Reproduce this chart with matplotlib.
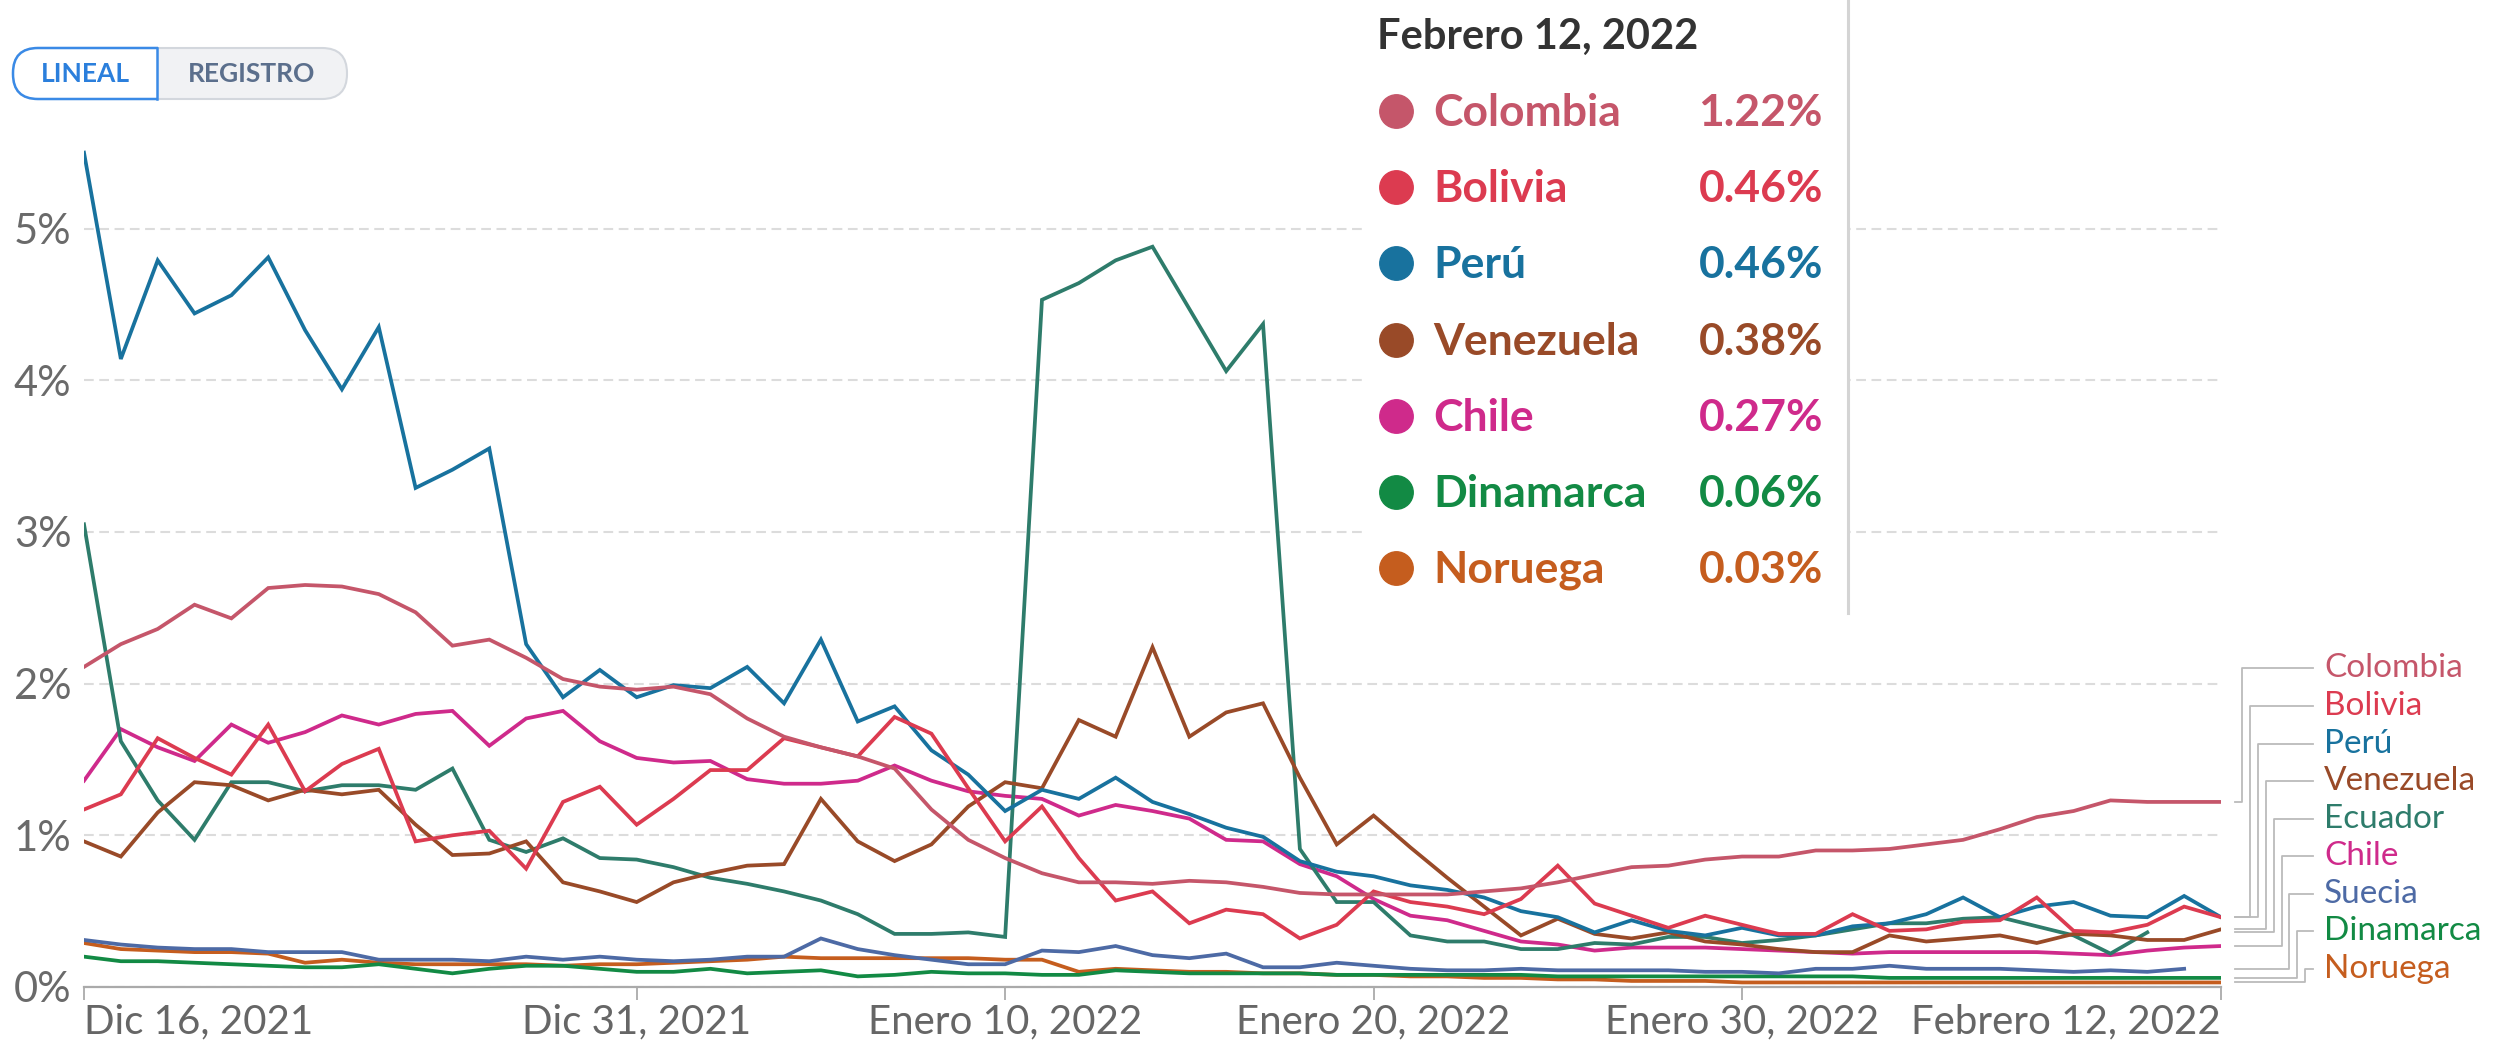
import matplotlib
matplotlib.use("Agg")
import matplotlib.pyplot as plt
from matplotlib.patches import FancyBboxPatch, Rectangle
from matplotlib.transforms import blended_transform_factory
import pandas as pd

plt.rcParams['font.family'] = ['Lato', 'DejaVu Sans']
plt.rcParams['lines.scale_dashes'] = False

# fechas diarias
dates = pd.date_range('2021-12-16', '2022-02-12', freq='D')

tick_dates = pd.to_datetime(['2021-12-16', '2021-12-31', '2022-01-10',
                             '2022-01-20', '2022-01-30', '2022-02-12'])
tick_labels = ['Dic 16, 2021', 'Dic 31, 2021', 'Enero 10, 2022',
               'Enero 20, 2022', 'Enero 30, 2022', 'Febrero 12, 2022']

colombia = [2.11, 2.26, 2.36, 2.52, 2.43, 2.63, 2.65, 2.64, 2.59, 2.47,
            2.25, 2.29, 2.17, 2.03, 1.98, 1.96, 1.98, 1.93, 1.77, 1.65,
            1.58, 1.52, 1.44, 1.17, 0.97, 0.85, 0.75, 0.69, 0.69, 0.68,
            0.70, 0.69, 0.66, 0.62, 0.61, 0.61, 0.61, 0.61, 0.63, 0.65,
            0.69, 0.74, 0.79, 0.80, 0.84, 0.86, 0.86, 0.90, 0.90, 0.91,
            0.94, 0.97, 1.04, 1.12, 1.16, 1.23, 1.22, 1.22, 1.22]
bolivia = [1.17, 1.27, 1.64, 1.51, 1.40, 1.73, 1.29, 1.47, 1.57, 0.96,
           1.00, 1.03, 0.78, 1.22, 1.32, 1.07, 1.24, 1.43, 1.43, 1.64,
           1.58, 1.52, 1.78, 1.67, 1.31, 0.96, 1.19, 0.85, 0.57, 0.63,
           0.42, 0.51, 0.48, 0.32, 0.41, 0.63, 0.56, 0.53, 0.48, 0.58,
           0.80, 0.55, 0.47, 0.39, 0.47, 0.41, 0.35, 0.35, 0.48, 0.37,
           0.38, 0.43, 0.44, 0.59, 0.37, 0.36, 0.41, 0.53, 0.46]
peru = [5.50, 4.14, 4.79, 4.44, 4.56, 4.81, 4.33, 3.94, 4.35, 3.29,
        3.41, 3.55, 2.26, 1.91, 2.09, 1.91, 1.99, 1.97, 2.11, 1.87,
        2.29, 1.75, 1.85, 1.56, 1.40, 1.16, 1.30, 1.24, 1.38, 1.22,
        1.14, 1.05, 0.99, 0.83, 0.76, 0.73, 0.67, 0.64, 0.59, 0.50,
        0.46, 0.36, 0.44, 0.37, 0.34, 0.39, 0.34, 0.34, 0.40, 0.42,
        0.48, 0.59, 0.46, 0.53, 0.56, 0.47, 0.46, 0.60, 0.46]
venezuela = [0.96, 0.86, 1.15, 1.35, 1.33, 1.23, 1.30, 1.27, 1.30, 1.07,
             0.87, 0.88, 0.96, 0.69, 0.63, 0.56, 0.69, 0.75, 0.80, 0.81,
             1.24, 0.96, 0.83, 0.94, 1.19, 1.35, 1.31, 1.76, 1.65, 2.24,
             1.65, 1.81, 1.87, 1.38, 0.94, 1.13, 0.92, 0.72, 0.53, 0.34,
             0.45, 0.35, 0.32, 0.36, 0.30, 0.28, 0.25, 0.23, 0.23, 0.34,
             0.30, 0.32, 0.34, 0.29, 0.35, 0.34, 0.31, 0.31, 0.38]
ecuador = [3.05, 1.62, 1.23, 0.97, 1.35, 1.35, 1.29, 1.33, 1.33, 1.30,
           1.44, 0.97, 0.89, 0.98, 0.85, 0.84, 0.79, 0.72, 0.68, 0.63,
           0.57, 0.48, 0.35, 0.35, 0.36, 0.33, 4.53, 4.64, 4.79, 4.88,
           4.47, 4.06, 4.37, 0.91, 0.56, 0.56, 0.34, 0.30, 0.30, 0.25,
           0.25, 0.29, 0.28, 0.33, 0.33, 0.29, 0.31, 0.34, 0.38, 0.42,
           0.42, 0.45, 0.46, 0.40, 0.34, 0.22, 0.36]
chile = [1.36, 1.70, 1.58, 1.49, 1.73, 1.61, 1.68, 1.79, 1.73, 1.80,
         1.82, 1.59, 1.77, 1.82, 1.62, 1.51, 1.48, 1.49, 1.37, 1.34,
         1.34, 1.36, 1.46, 1.36, 1.29, 1.26, 1.24, 1.13, 1.20, 1.16,
         1.11, 0.97, 0.96, 0.81, 0.73, 0.58, 0.47, 0.44, 0.37, 0.30,
         0.28, 0.24, 0.26, 0.26, 0.26, 0.25, 0.24, 0.23, 0.22, 0.23,
         0.23, 0.23, 0.23, 0.23, 0.22, 0.21, 0.24, 0.26, 0.27]
suecia = [0.31, 0.28, 0.26, 0.25, 0.25, 0.23, 0.23, 0.23, 0.18, 0.18,
          0.18, 0.17, 0.20, 0.18, 0.20, 0.18, 0.17, 0.18, 0.20, 0.20,
          0.32, 0.25, 0.21, 0.18, 0.15, 0.15, 0.24, 0.23, 0.27, 0.21,
          0.19, 0.22, 0.13, 0.13, 0.16, 0.14, 0.12, 0.11, 0.11, 0.12,
          0.11, 0.11, 0.11, 0.11, 0.10, 0.10, 0.09, 0.12, 0.12, 0.14,
          0.12, 0.12, 0.12, 0.11, 0.10, 0.11, 0.10, 0.12]
dinamarca = [0.20, 0.17, 0.17, 0.16, 0.15, 0.14, 0.13, 0.13, 0.15, 0.12,
             0.09, 0.12, 0.14, 0.14, 0.12, 0.10, 0.10, 0.12, 0.09, 0.10,
             0.11, 0.07, 0.08, 0.10, 0.09, 0.09, 0.08, 0.08, 0.11, 0.10,
             0.09, 0.09, 0.09, 0.09, 0.08, 0.08, 0.08, 0.08, 0.08, 0.08,
             0.07, 0.07, 0.07, 0.07, 0.07, 0.07, 0.07, 0.07, 0.07, 0.06,
             0.06, 0.06, 0.06, 0.06, 0.06, 0.06, 0.06, 0.06, 0.06]
noruega = [0.29, 0.25, 0.24, 0.23, 0.23, 0.22, 0.16, 0.18, 0.16, 0.15,
           0.15, 0.15, 0.15, 0.14, 0.15, 0.15, 0.16, 0.17, 0.18, 0.20,
           0.19, 0.19, 0.19, 0.19, 0.19, 0.18, 0.18, 0.10, 0.12, 0.11,
           0.10, 0.10, 0.09, 0.09, 0.08, 0.08, 0.07, 0.07, 0.06, 0.06,
           0.05, 0.05, 0.04, 0.04, 0.04, 0.03, 0.03, 0.03, 0.03, 0.03,
           0.03, 0.03, 0.03, 0.03, 0.03, 0.03, 0.03, 0.03, 0.03]

names = ['Colombia', 'Bolivia', 'Perú', 'Venezuela', 'Ecuador',
         'Chile', 'Suecia', 'Dinamarca', 'Noruega']
series = [colombia, bolivia, peru, venezuela, ecuador,
          chile, suecia, dinamarca, noruega]
colors = ['#c5566a', '#dc3b50', '#18729e', '#994a28', '#2e7c6b',
          '#cf2a8b', '#4d6aa5', '#128a44', '#c55d1e']

W, H = 2496, 1052
fig = plt.figure(figsize=(W / 100, H / 100), dpi=100)

# ejes principales (en pixeles de la imagen)
x0, x1, y0 = 84, 2221, 987
px_per_pct = 151.7
ax = fig.add_axes([x0 / W, 1 - y0 / H, (x1 - x0) / W, (y0 - 130) / H])
ax.set_xlim(dates[0], dates[-1])
ax.set_ylim(0, (y0 - 130) / px_per_pct)

for vals, c in reversed(list(zip(series, colors))):
    ax.plot(dates[:len(vals)], vals, color=c, lw=2.7, solid_joinstyle='miter',
            zorder=3)

ax.set_axisbelow(True)
ax.yaxis.grid(True, color='#dcdcdc', lw=1.5, linestyle=(0, (7, 4)))
for s in ['top', 'right', 'left']:
    ax.spines[s].set_visible(False)
ax.spines['bottom'].set_color('#aaaaaa')
ax.spines['bottom'].set_linewidth(1.6)

ax.set_yticks(range(6))
ax.set_yticklabels([f'{i}%' for i in range(6)])
ax.tick_params(axis='y', length=0, labelsize=30, labelcolor='#6a6a6a', pad=9)

ax.set_xticks(tick_dates)
ax.set_xticklabels(tick_labels)
ax.tick_params(axis='x', length=9, width=1.3, color='#aaaaaa', labelsize=29,
               labelcolor='#666666', pad=3)
xl = ax.get_xticklabels()
xl[0].set_ha('left')
xl[-1].set_ha('right')

# etiquetas a la derecha con lineas guia
tr = blended_transform_factory(ax.transAxes, ax.transData)
aw = x1 - x0
label_top, label_step = 2.10, 0.2475
for i, (nm, vals, c) in enumerate(zip(names, series, colors)):
    ly = label_top - i * label_step
    ex = 1 + (21 + i * 7.9) / aw
    ax.plot([1 + 14 / aw, ex, ex, 1 + 92 / aw], [vals[-1], vals[-1], ly, ly],
            color='#bbbbbb', lw=1.3, transform=tr, clip_on=False)
    ax.text(1 + 103 / aw, ly, nm, color=c, fontsize=24, va='center',
            ha='left', transform=tr)

# capa superior en pixeles: tooltip y botones
ov = fig.add_axes([0, 0, 1, 1])
ov.set_xlim(0, W)
ov.set_ylim(H, 0)
ov.axis('off')

ov.add_patch(Rectangle((1365, 0), 483, 613, fc='white', ec='none'))
ov.plot([1848, 1848], [0, 613], color='#d4d4d4', lw=2.2)
ov.text(1377, 37, tick_labels[-1], fontsize=30, fontweight='bold',
        color='#333333', va='center', ha='left')

last = [(vals[-1], nm, c) for nm, vals, c in zip(names, series, colors)
        if len(vals) == len(dates)]
last.sort(key=lambda t: -t[0])
for k, (v, nm, c) in enumerate(last):
    ry = 111 + k * 76.2
    ov.scatter([1396], [ry], s=580, color=c, zorder=5)
    ov.text(1433, ry + 2, nm, fontsize=32, fontweight='bold', color=c,
            va='center', ha='left')
    ov.text(1823, ry + 2, f'{v:.2f}%', fontsize=32, fontweight='bold',
            color=c, va='center', ha='right')

# botones LINEAL / REGISTRO
pill = FancyBboxPatch((13, 48), 334, 51, boxstyle='round,pad=0,rounding_size=25',
                      fc='#f1f2f4', ec='#d3d7dd', lw=1.5)
ov.add_patch(pill)
left = FancyBboxPatch((13, 48), 200, 51, boxstyle='round,pad=0,rounding_size=25',
                      fc='white', ec='#3a8ae6', lw=1.8)
ov.add_patch(left)
left.set_clip_path(Rectangle((0, 40), 158, 70, transform=ov.transData))
ov.plot([157, 157], [48, 99], color='#3a8ae6', lw=1.8)
ov.text(85, 74, 'LINEAL', fontsize=19, fontweight='bold', color='#2b7fdc',
        va='center', ha='center')
ov.text(252, 74, 'REGISTRO', fontsize=19, fontweight='bold', color='#5b6f8c',
        va='center', ha='center')

fig.savefig('out.png', dpi=100)
